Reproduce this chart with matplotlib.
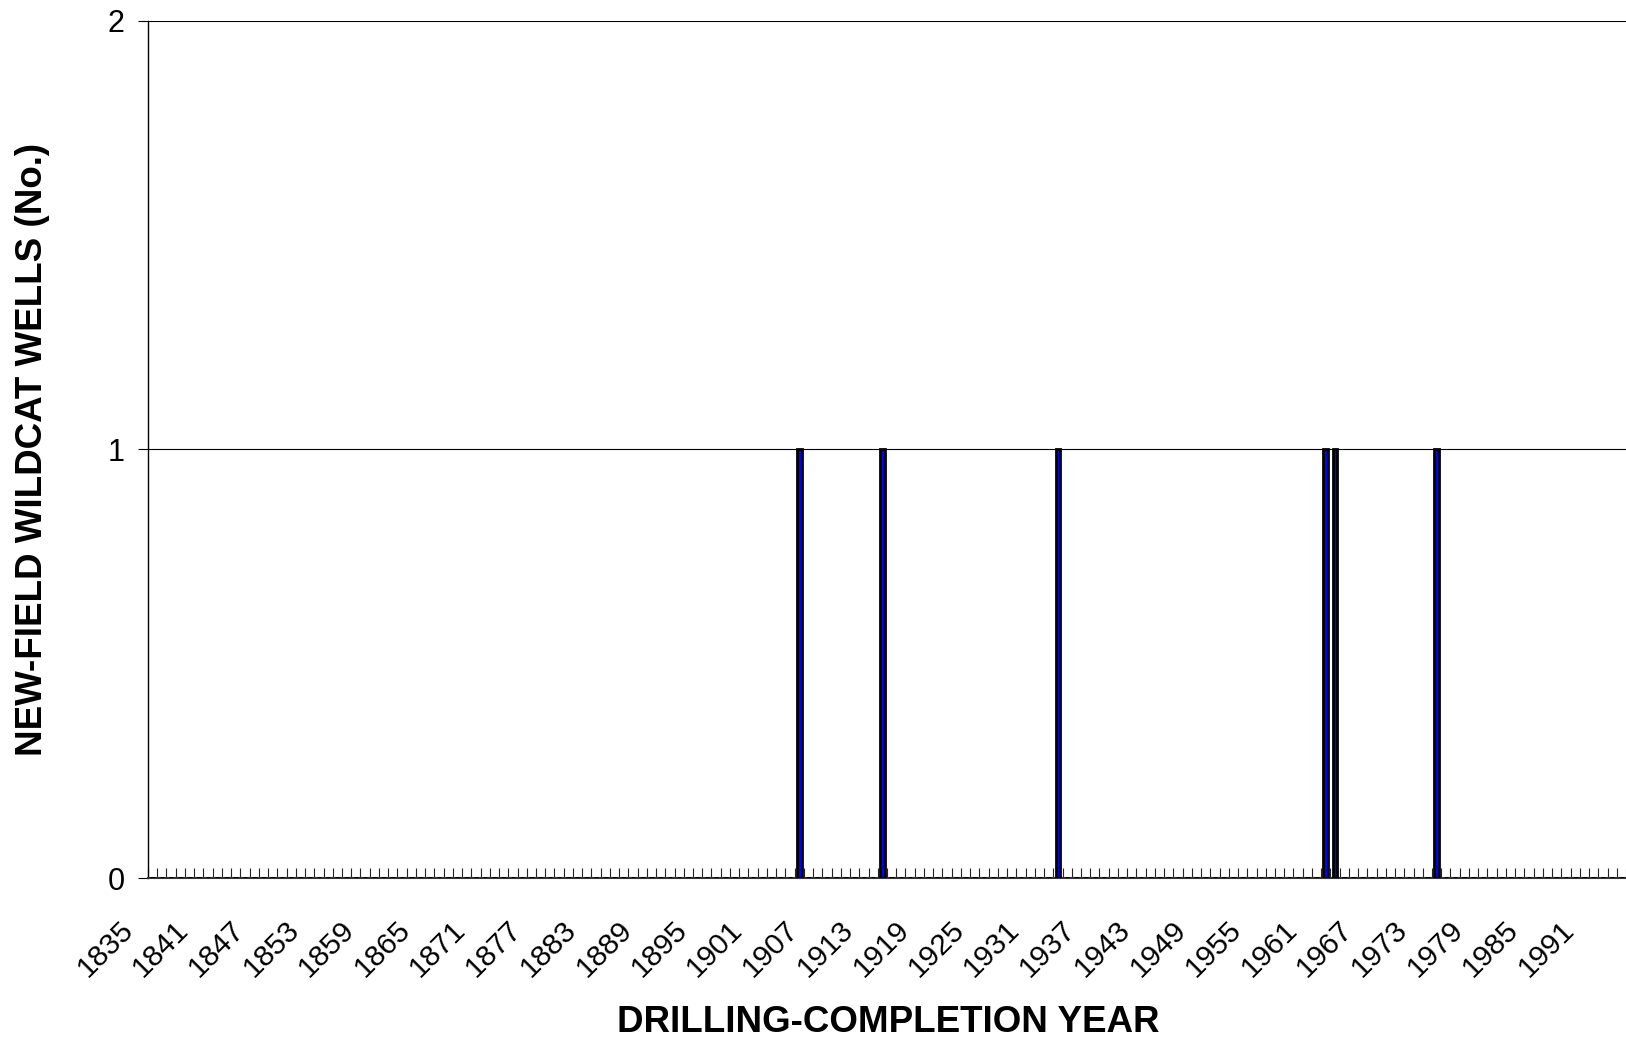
import numpy as np
import matplotlib
matplotlib.use("Agg")
import matplotlib.pyplot as plt
from matplotlib.transforms import ScaledTranslation

plt.rcParams['font.family'] = ['Liberation Sans', 'DejaVu Sans']

# categories on the x axis (one per year) and the years with a new-field wildcat
years = list(range(1835, 1995))
well_years = [1905, 1914, 1933, 1962, 1963, 1974]
well_counts = [1, 1, 1, 1, 1, 1]
label_step = 6
y_ticks = [0, 1, 2]

counts = [0] * len(years)
for yr, n in zip(well_years, well_counts):
    counts[years.index(yr)] = n

fig = plt.figure(figsize=(16.26, 10.40), dpi=100)
W, H = 1626, 1040
ax = fig.add_axes([148 / W, 1 - 878 / H, 1 - 148 / W, (878 - 20.7) / H])

x = np.arange(len(years))
ax.bar(x, counts, width=0.5, color='#0000ff', edgecolor='black', linewidth=2.0, zorder=3)

ax.set_xlim(-0.5, len(years) - 0.5)
ax.set_ylim(0, 2)

# y axis
ax.set_yticks(y_ticks)
ax.set_yticklabels([str(v) for v in y_ticks], fontsize=22)
ax.tick_params(axis='y', direction='out', length=7, width=0.8, pad=10)
ax.yaxis.grid(True, color='black', linewidth=0.8)
ax.set_axisbelow(True)

# x axis: minor ticks between categories, labels every 6 years
ax.set_xticks(x[::label_step])
ax.set_xticklabels([str(y) for y in years[::label_step]], fontsize=21.5,
                   rotation=45, ha='right', va='top')
ax.set_xticks(np.arange(len(years) + 1) - 0.5, minor=True)
ax.tick_params(axis='x', which='major', length=0, pad=27)
ax.tick_params(axis='x', which='minor', direction='in', length=7, width=0.8, color='#222222')
shift = ScaledTranslation(-14 / 100, 0, fig.dpi_scale_trans)
for lbl in ax.get_xticklabels():
    lbl.set_transform(lbl.get_transform() + shift)

for side in ['top', 'right']:
    ax.spines[side].set_visible(False)
ax.spines['left'].set_linewidth(1.0)
ax.spines['bottom'].set_linewidth(1.5)
ax.spines['bottom'].set_color('#333333')

fig.text(888 / W, 0.0, 'DRILLING-COMPLETION YEAR', fontsize=26.5,
         fontweight='bold', ha='center', va='bottom')
fig.text(33 / W, 1 - 449 / H, 'NEW-FIELD WILDCAT WELLS (No.)', fontsize=26.5,
         fontweight='bold', rotation=90, ha='center', va='center')

fig.savefig('out.png', dpi=100)
